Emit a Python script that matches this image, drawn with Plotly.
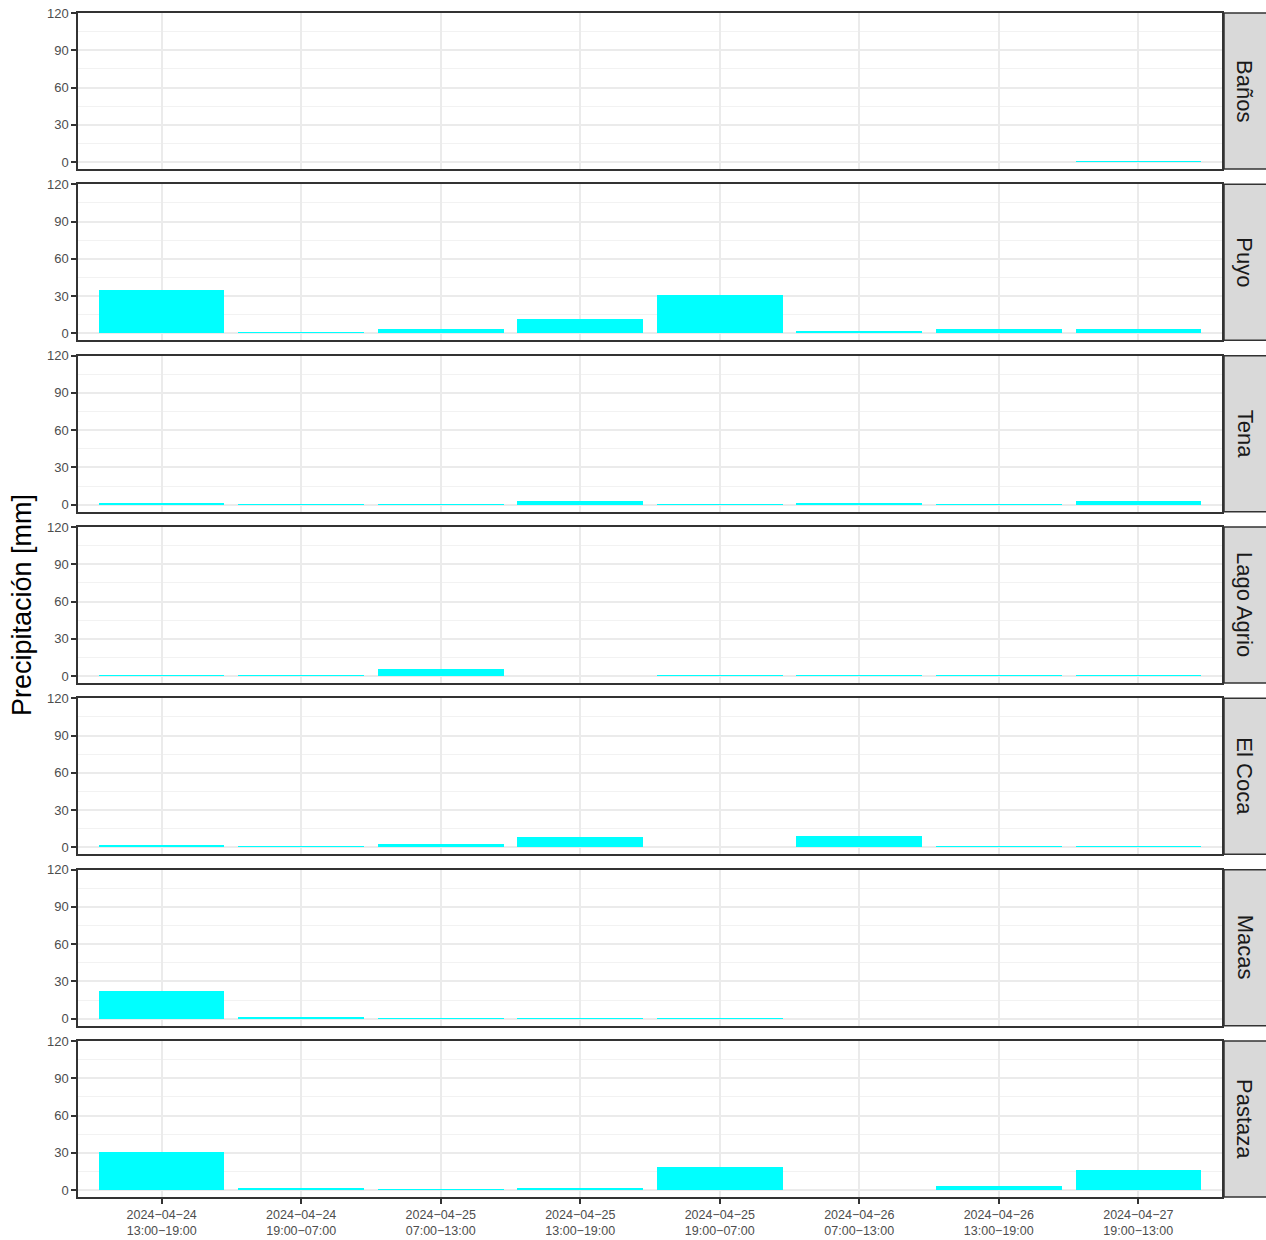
import plotly.graph_objects as go

stations = ["Baños", "Puyo", "Tena", "Lago Agrio", "El Coca", "Macas", "Pastaza"]
periods = ["2024−04−24<br>13:00−19:00", "2024−04−24<br>19:00−07:00",
           "2024−04−25<br>07:00−13:00", "2024−04−25<br>13:00−19:00",
           "2024−04−25<br>19:00−07:00", "2024−04−26<br>07:00−13:00",
           "2024−04−26<br>13:00−19:00", "2024−04−27<br>19:00−13:00"]

banos = [None, None, None, None, None, None, None, 0.6]
puyo = [34.5, 0.6, 3.5, 11.5, 30.8, 2.0, 3.5, 3.5]
tena = [1.2, 0.6, 0.6, 3.5, 0.6, 1.2, 0.6, 3.0]
lago_agrio = [0.8, 0.8, 5.5, None, 0.8, 0.8, 0.8, 0.8]
el_coca = [1.2, 0.7, 2.5, 8.0, None, 8.5, 0.8, 0.8]
macas = [22.5, 1.5, 0.6, 0.6, 0.6, None, None, None]
pastaza = [30.5, 1.0, 0.6, 1.5, 18.5, None, 3.3, 16.0]
series = [banos, puyo, tena, lago_agrio, el_coca, macas, pastaza]

W, H = 1266, 1240
left, right_px, top, bottom = 78, 1222, 13, 1197
strip_right = 1266
panel_h = 156.0
step = (bottom - top - panel_h) / 6.0

def py(p):
    return 1 - (p - top) / (bottom - top)

fig = go.Figure()
shapes = []
annotations = []
xi = list(range(len(periods)))
for i, (name, vals) in enumerate(zip(stations, series)):
    n = i + 1
    ytop = top + i * step
    ybot = ytop + panel_h
    xa = "x" if n == 1 else f"x{n}"
    ya = "y" if n == 1 else f"y{n}"
    fig.add_trace(go.Bar(x=xi, y=vals, width=0.9, marker=dict(color="#00FFFF", line=dict(width=0)),
                         xaxis=xa, yaxis=ya, showlegend=False, hoverinfo="x+y"))
    last = (n == len(stations))
    xkey = "xaxis" if n == 1 else f"xaxis{n}"
    ykey = "yaxis" if n == 1 else f"yaxis{n}"
    fig.layout[xkey] = dict(domain=[0, 1], anchor=ya, range=[-0.6, 7.6],
                            tickvals=xi, ticktext=periods if last else [""] * len(xi),
                            showticklabels=last, ticks="outside" if last else "",
                            ticklen=5, tickwidth=1.5, tickcolor="#333333",
                            showgrid=True, gridcolor="#EBEBEB", gridwidth=1.5,
                            showline=True, mirror=True, linecolor="#333333", linewidth=1.5,
                            zeroline=False, fixedrange=True,
                            tickfont=dict(family="Liberation Sans, Arial", size=12.5, color="#4D4D4D"))
    if n > 1:
        fig.layout[xkey].matches = "x"
    fig.layout[ykey] = dict(domain=[py(ybot), py(ytop)], anchor=xa, range=[-5.64, 120],
                            tickvals=[0, 30, 60, 90, 120], ticks="outside", ticklen=5,
                            tickwidth=1.5, tickcolor="#333333",
                            showgrid=True, gridcolor="#EBEBEB", gridwidth=1.5,
                            minor=dict(tickvals=[15, 45, 75, 105], showgrid=True,
                                       gridcolor="#F2F2F2", gridwidth=0.8, ticks=""),
                            showline=True, mirror=True, linecolor="#333333", linewidth=1.5,
                            zeroline=False, fixedrange=True,
                            tickfont=dict(family="Liberation Sans, Arial", size=13, color="#4D4D4D"))
    # strip
    x0 = (1224 - left) / (right_px - left)
    x1 = (strip_right - left) / (right_px - left)
    shapes.append(dict(type="rect", xref="paper", yref="paper", x0=x0, x1=x1 + 0.01,
                       y0=py(ybot), y1=py(ytop), fillcolor="#D9D9D9",
                       line=dict(color="#333333", width=1.5), layer="above"))
    annotations.append(dict(xref="paper", yref="paper", x=(x0 + x1) / 2, y=py((ytop + ybot) / 2),
                            text=name, showarrow=False, textangle=90,
                            font=dict(family="Liberation Sans, Arial", size=22, color="#1A1A1A"),
                            xanchor="center", yanchor="middle"))

annotations.append(dict(xref="paper", yref="paper", x=(22 - left) / (right_px - left), y=py(605),
                        text="Precipitación [mm]", showarrow=False, textangle=-90,
                        font=dict(family="Liberation Sans, Arial", size=27, color="#000000"),
                        xanchor="center", yanchor="middle"))

fig.update_layout(width=W, height=H, plot_bgcolor="white", paper_bgcolor="white",
                  margin=dict(l=left, r=W - right_px, t=top, b=H - bottom, autoexpand=False),
                  shapes=shapes, annotations=annotations, bargap=0)

fig.write_html("out.html", config={"displayModeBar": False},
               post_script="document.body.style.margin='0px';document.body.style.overflow='hidden';")
